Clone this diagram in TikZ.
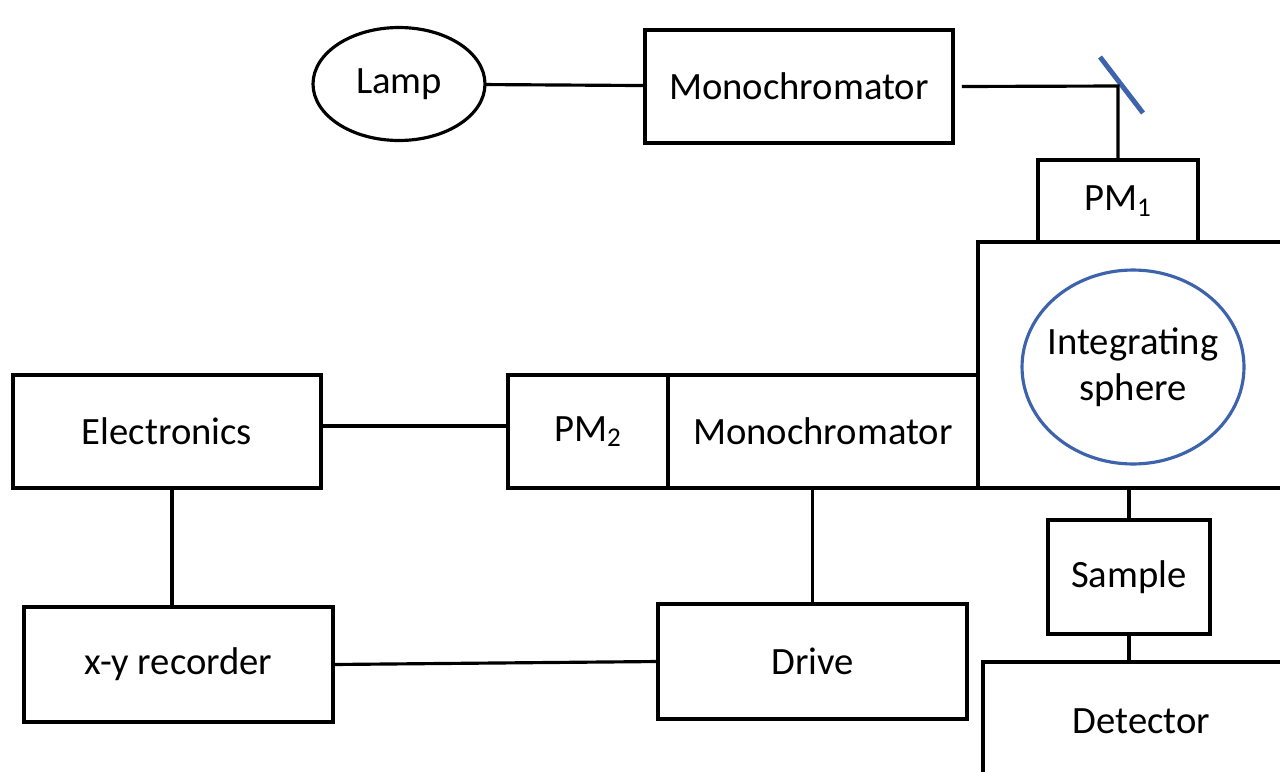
\documentclass[tikz,border=0pt]{standalone}
\usepackage{fontspec}
\setmainfont{Carlito}
\usepackage{tikz}
\usetikzlibrary{positioning, arrows.meta, shapes.geometric, calc}

\definecolor{sphereblue}{HTML}{3D63AC}

\begin{document}
\begin{tikzpicture}[>=Latex, x=0.02cm, y=-0.02cm,
        every node/.style={font=\fontsize{22}{26}\selectfont},
        box/.style={draw, rectangle, line width=1.8pt, inner sep=0pt, outer sep=0pt},
        oval/.style={draw, ellipse, line width=1.8pt, inner sep=0pt, outer sep=0pt},
        wire/.style={line width=1.8pt}]
                \useasboundingbox (0,0) rectangle (1280,771);

                \node[oval, minimum width=3.44cm, minimum height=2.26cm] (lamp) at (399,84) {Lamp};
                \node[box, minimum width=6.16cm, minimum height=2.26cm] (mono1) at (799,86.5) {Monochromator};
                \node[box, minimum width=3.2cm, minimum height=1.64cm] (pm1) at (1118,201) {PM\textsubscript{1}};
                \node[box, minimum width=6.44cm, minimum height=4.92cm] (sbox) at (1139,365) {};
                \node[oval, draw=sphereblue, inner sep=-0.25cm, minimum width=4.44cm, minimum height=3.88cm, align=center] (sphere) at (1133,367) {Integrating\\sphere};
                \node[box, minimum width=6.2cm, minimum height=2.26cm] (mono2) at (823,431.5) {Monochromator};
                \node[box, minimum width=3.2cm, minimum height=2.26cm] (pm2) at (588,431.5) {PM\textsubscript{2}};
                \node[box, minimum width=6.16cm, minimum height=2.26cm] (elec) at (167,431.5) {Electronics};
                \node[box, minimum width=6.18cm, minimum height=2.3cm] (xy) at (178.5,664.5) {x-y recorder};
                \node[box, minimum width=6.18cm, minimum height=2.3cm] (drive) at (812.5,661.5) {Drive};
                \node[box, minimum width=3.24cm, minimum height=2.28cm] (sample) at (1129,577) {Sample};
                \node[box, minimum width=6.34cm, minimum height=2.36cm] (det) at (1141.5,721) {Detector};

                % mirror
                \coordinate (mir) at (1118,86);
                \draw[sphereblue, line width=2.8pt] (1100,57) -- (1143,113);

                \draw[wire] (lamp) -- (mono1);
                \draw[wire] ([xshift=5]mono1.east) -- (mir) -- (pm1.north);
                \draw[wire] ([yshift=0.11cm]elec.east) -- ([yshift=0.11cm]pm2.west);
                \draw[wire] ([xshift=0.1cm]elec.south) -- ([xshift=0.1cm]elec.south |- xy.north);
                \draw[wire] (xy.east) -- (drive.west);
                \draw[wire] (drive.north) -- (drive.north |- mono2.south);
                \draw[wire] (sample.north) -- (sample.north |- sbox.south);
                \draw[wire] (sample.south) -- (sample.south |- det.north);
            \end{tikzpicture}
\end{document}
